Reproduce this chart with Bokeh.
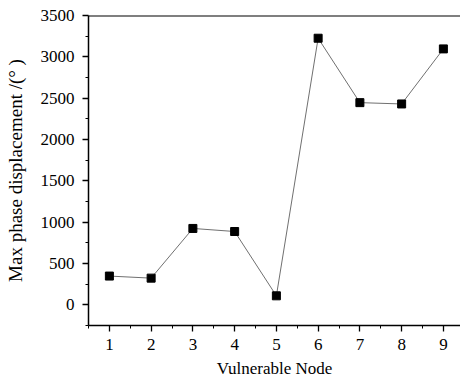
from bokeh.plotting import figure
from bokeh.models import Range1d, Span, FixedTicker
from bokeh.embed import file_html
from bokeh.resources import INLINE

nodes = [1, 2, 3, 4, 5, 6, 7, 8, 9]
max_phase = [348, 323, 924, 887, 109, 3225, 2446, 2430, 3096]
y_ticks = [0, 500, 1000, 1500, 2000, 2500, 3000, 3500]

FONT = "Liberation Serif"

p = figure(width=460, height=382, output_backend="svg", toolbar_location=None,
           x_range=Range1d(0.5, 9.41), y_range=Range1d(-250, 3500),
           min_border_left=88, min_border_right=0, min_border_top=15, min_border_bottom=57)
p.outline_line_color = None
p.grid.grid_line_color = None
p.background_fill_color = "white"
p.border_fill_color = "white"

p.line(nodes, max_phase, line_color="#707070", line_width=1)
p.scatter(nodes, max_phase, marker="square", size=8, fill_color="black", line_color="black")

top = Span(location=3500, dimension="width", line_color="black", line_width=2)
p.add_layout(top)

for ax in (p.xaxis[0], p.yaxis[0]):
    ax.axis_line_color = "black"
    ax.axis_line_width = 1.5
    ax.major_tick_line_color = "black"
    ax.minor_tick_line_color = "black"
    ax.major_tick_line_width = 1.3
    ax.minor_tick_line_width = 1
    ax.major_tick_in = 0
    ax.major_tick_out = 6
    ax.minor_tick_in = 0
    ax.minor_tick_out = 3
    ax.major_label_text_font = FONT
    ax.major_label_text_font_size = "17px"
    ax.major_label_text_color = "black"
    ax.axis_label_text_font = FONT
    ax.axis_label_text_font_style = "normal"
    ax.axis_label_text_color = "black"

p.xaxis.axis_label_text_font_size = "17px"
p.yaxis.axis_label_text_font_size = "19px"
p.xaxis.ticker = FixedTicker(ticks=nodes, minor_ticks=[i + 0.5 for i in range(0, 10)])
p.yaxis.ticker = FixedTicker(ticks=y_ticks, minor_ticks=[-250] + [t + 250 for t in y_ticks[:-1]])
p.xaxis.axis_label = "Vulnerable Node"
p.yaxis.axis_label = "Max phase displacement /(° )"
p.xaxis.major_label_standoff = 7
p.yaxis.major_label_standoff = 8
p.xaxis.axis_label_standoff = 6
p.yaxis.axis_label_standoff = 12

open("out.html", "w").write(file_html(p, INLINE))
